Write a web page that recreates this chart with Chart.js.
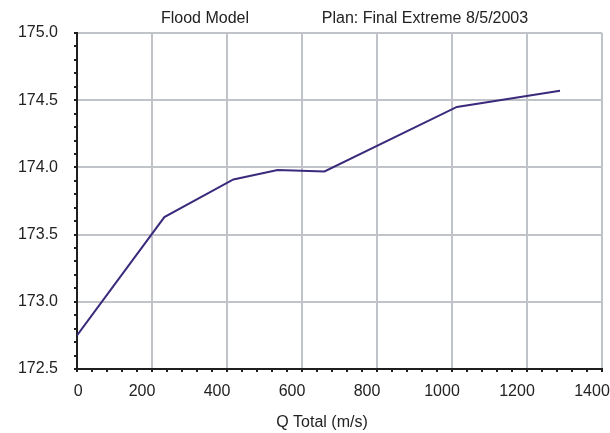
<!DOCTYPE html>
<html>
<head>
<meta charset="utf-8">
<script src="https://cdn.jsdelivr.net/npm/chart.js@4"></script>
<style>
  html, body { margin: 0; padding: 0; background: #fff; }
  #wrap { width: 610px; height: 433px; }
</style>
</head>
<body>
<div id="wrap"><canvas id="chart1" width="610" height="433"></canvas></div>
<script>
// Datos
const Q_TOTAL = [0, 233, 417, 535, 660, 1013, 1288];
const W_S_ELEV = [172.75, 173.63, 173.91, 173.98, 173.97, 174.45, 174.57];

const TITLE_LEFT = "Flood Model";
const TITLE_RIGHT = "Plan: Final Extreme 8/5/2003";
const X_TITLE = "Q Total (m/s)";

const FONT = "'Liberation Sans', Arial, sans-serif";
const GRID_COLOR = "#c0c3c7";
const AXIS_COLOR = "#1e1e1e";

function esMayor(v, paso) {
  const r = v / paso;
  return Math.abs(r - Math.round(r)) < 1e-6;
}

// textos de cabecera y titulo del eje x
const textosPlugin = {
  id: "textos",
  afterDraw(chart) {
    const ctx = chart.ctx;
    ctx.save();
    ctx.fillStyle = "#222";
    ctx.font = "16px " + FONT;
    ctx.textBaseline = "middle";
    ctx.textAlign = "center";
    ctx.fillText(TITLE_LEFT, 205, 19);
    ctx.fillText(TITLE_RIGHT, 425, 19);
    ctx.fillText(X_TITLE, 322, 423);
    ctx.restore();
  },
};

const ctx1 = document.getElementById("chart1").getContext("2d");
new Chart(ctx1, {
  type: "line",
  data: {
    datasets: [
      {
        data: Q_TOTAL.map((q, i) => ({ x: q, y: W_S_ELEV[i] })),
        borderColor: "#3b2a7c",
        borderWidth: 2,
        pointRadius: 0,
        tension: 0,
      },
    ],
  },
  options: {
    responsive: false,
    animation: false,
    layout: {
      autoPadding: false,
      padding: { top: 33, right: 8, left: 0, bottom: 0 },
    },
    plugins: {
      legend: { display: false },
      tooltip: { enabled: false },
    },
    scales: {
      x: {
        type: "linear",
        min: 0,
        max: 1400,
        afterFit: (s) => {
          s.height = 64;
          s.paddingLeft = 0;
          s.paddingRight = 0;
        },
        ticks: {
          stepSize: 40,
          autoSkip: false,
          maxRotation: 0,
          padding: 10,
          labelOffset: -10,
          color: "#222",
          font: { family: FONT, size: 16 },
          // el "0" del original queda pegado al eje
          callback: (v) => {
            if (!esMayor(v, 200)) return "";
            return v === 0 ? "     0" : String(v);
          },
        },
        grid: {
          color: (c) => (c.tick && esMayor(c.tick.value, 200) ? GRID_COLOR : "rgba(0,0,0,0)"),
          lineWidth: 2,
          tickColor: AXIS_COLOR,
          tickLength: 3,
        },
        border: { color: AXIS_COLOR, width: 2 },
      },
      y: {
        min: 172.5,
        max: 175.0,
        afterFit: (s) => {
          s.width = 77;
          s.paddingTop = 0;
          s.paddingBottom = 0;
        },
        ticks: {
          stepSize: 0.1,
          autoSkip: false,
          padding: 16,
          color: "#222",
          font: { family: FONT, size: 16 },
          callback: (v) => (esMayor(v, 0.5) ? Number(v).toFixed(1) : ""),
        },
        grid: {
          color: (c) => (c.tick && esMayor(c.tick.value, 0.5) ? GRID_COLOR : "rgba(0,0,0,0)"),
          lineWidth: 2,
          tickColor: AXIS_COLOR,
          tickLength: 3,
        },
        border: { color: AXIS_COLOR, width: 2 },
      },
    },
  },
  plugins: [textosPlugin],
});
</script>
</body>
</html>
